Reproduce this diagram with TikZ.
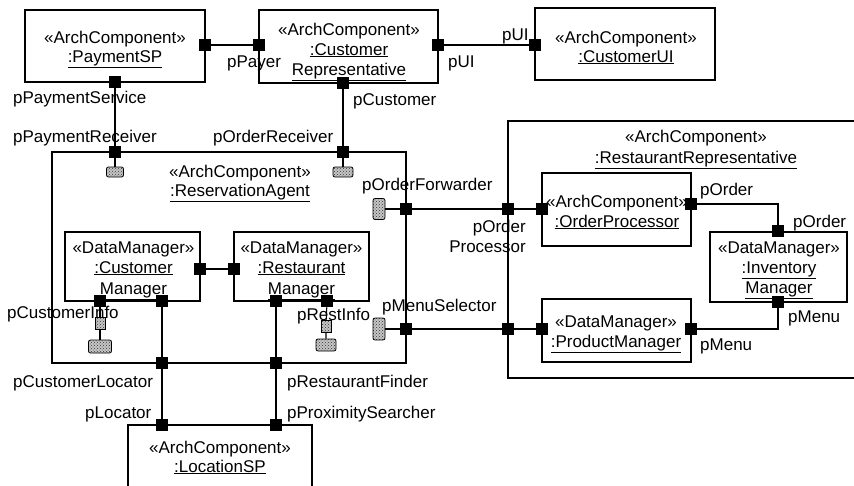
\documentclass[tikz,border=0pt]{standalone}
\usepackage{fontspec}
\setmainfont{Liberation Sans}
\usetikzlibrary{patterns}
\begin{document}
\begin{tikzpicture}[x=1pt,y=-1pt,
  every node/.style={font=\fontsize{17}{20}\selectfont},
  comp/.style={draw, line width=1.2pt, inner sep=0pt},
  prt/.style={fill=black, minimum size=12.5pt, inner sep=0pt},
  bhv/.style={draw, line width=0.8pt, rounded corners=2pt, inner sep=0pt,
    preaction={fill=gray!45}, pattern=crosshatch dots, pattern color=black!80},
  stub/.style={draw, line width=0.6pt, inner sep=0pt, minimum width=10pt, minimum height=12pt,
    preaction={fill=gray!45}, pattern=crosshatch dots, pattern color=black!80},
  tag/.style={inner sep=0pt, anchor=base},
  lbl/.style={inner sep=0pt, anchor=base west},
  wire/.style={line width=1.1pt}]
\useasboundingbox (0,0) rectangle (854,485);
\clip (0,0) rectangle (854,485);

% ---------- component boxes ----------
\node[comp, minimum width=180pt, minimum height=72pt] (pay) at (115,46) {};
\node[comp, minimum width=179pt, minimum height=73pt] (cr) at (348.5,46.5) {};
\node[comp, minimum width=180pt, minimum height=72pt] (ui) at (625,44) {};
\node[comp, minimum width=354pt, minimum height=211pt] (ra) at (229,257.5) {};
\node[comp, minimum width=135pt, minimum height=69pt] (cm) at (132.5,266.5) {};
\node[comp, minimum width=135pt, minimum height=69pt] (rm) at (301.5,266.5) {};
\node[comp, minimum width=184pt, minimum height=95pt] (ls) at (220,472.5) {};
\node[comp, minimum width=384pt, minimum height=257pt] (rr) at (700,249.5) {};
\node[comp, minimum width=149pt, minimum height=73pt] (op) at (616.5,209.5) {};
\node[comp, minimum width=137pt, minimum height=70pt] (im) at (778.5,267) {};
\node[comp, minimum width=149pt, minimum height=63pt] (pm) at (616.5,330.5) {};

% ---------- box texts ----------
\node[tag] (paySt) at (115,43) {«ArchComponent»};
\node[tag] (payNm) at (115,62) {\underline{:PaymentSP}};
\node[tag] (crSt) at (349,35) {«ArchComponent»};
\node[tag] (crNa) at (349,55) {\underline{:Customer}};
\node[tag] (crNb) at (349,75) {\underline{Representative}};
\node[tag] (uiSt) at (626,43) {«ArchComponent»};
\node[tag] (uiNm) at (626,62) {\underline{:CustomerUI}};
\node[tag] (raSt) at (240,177) {«ArchComponent»};
\node[tag] (raNm) at (240,196) {\underline{:ReservationAgent}};
\node[tag] (cmSt) at (133.5,253) {«DataManager»};
\node[tag] (cmNa) at (133.5,273) {\underline{:Customer}};
\node[tag] (cmNb) at (133.5,294) {\underline{Manager}};
\node[tag] (rmSt) at (301.5,253) {«DataManager»};
\node[tag] (rmNa) at (301.5,273) {\underline{:Restaurant}};
\node[tag] (rmNb) at (301.5,294) {\underline{Manager}};
\node[tag] (lsSt) at (220,453) {«ArchComponent»};
\node[tag] (lsNm) at (220,472) {\underline{:LocationSP}};
\node[tag] (rrSt) at (696,142) {«ArchComponent»};
\node[tag] (rrNm) at (696,163) {\underline{:RestaurantRepresentative}};
\node[tag] (opSt) at (617,207) {«ArchComponent»};
\node[tag] (opNm) at (617,227) {\underline{:OrderProcessor}};
\node[tag] (imSt) at (779,253) {«DataManager»};
\node[tag] (imNa) at (779,273) {\underline{:Inventory}};
\node[tag] (imNb) at (779,293) {\underline{Manager}};
\node[tag] (pmSt) at (616,327) {«DataManager»};
\node[tag] (pmNm) at (616,347) {\underline{:ProductManager}};

% ---------- ports ----------
\node[prt] (payR) at (205,45) {};
\node[prt] (payB) at (115,82) {};
\node[prt] (crL) at (259,45) {};
\node[prt] (crR) at (438,45) {};
\node[prt] (crB) at (343,83) {};
\node[prt] (uiL) at (535,45) {};
\node[prt] (raPay) at (115,152) {};
\node[prt] (raOrd) at (343,152) {};
\node[prt] (raFwd) at (406,209) {};
\node[prt] (raMenu) at (406,329) {};
\node[prt] (raCL) at (162,363) {};
\node[prt] (raRF) at (276,363) {};
\node[prt] (cmR) at (200,269) {};
\node[prt] (cmInfo) at (100,301) {};
\node[prt] (cmLoc) at (162,301) {};
\node[prt] (rmL) at (234,269) {};
\node[prt] (rmFind) at (276,301) {};
\node[prt] (rmInfo) at (327,301) {};
\node[prt] (lsLoc) at (162,425) {};
\node[prt] (lsProx) at (276,425) {};
\node[prt] (rrOP) at (508,209) {};
\node[prt] (rrMS) at (508,329) {};
\node[prt] (opL) at (542,209) {};
\node[prt] (opR) at (691,204) {};
\node[prt] (pmL) at (542,329) {};
\node[prt] (pmR) at (691,329) {};
\node[prt] (imT) at (778,231) {};
\node[prt] (imB) at (778,302) {};

% ---------- behaviour ports ----------
\node[bhv, minimum width=17pt, minimum height=10pt] (bPay) at (115,172) {};
\node[bhv, minimum width=20pt, minimum height=10pt] (bOrd) at (343,172) {};
\node[bhv, minimum width=12pt, minimum height=21pt] (bFwd) at (379,209) {};
\node[bhv, minimum width=12pt, minimum height=22pt] (bMenu) at (379,329) {};
\node[stub] (sCust) at (100,323) {};
\node[bhv, minimum width=23pt, minimum height=13pt] (bCust) at (100,346.5) {};
\node[stub] (sRest) at (326,326) {};
\node[bhv, minimum width=20pt, minimum height=12pt] (bRest) at (326,345) {};

% ---------- connectors ----------
\draw[wire] (payR) -- (crL);
\draw[wire] (crR) -- (uiL);
\draw[wire] (payB) -- (raPay) -- (bPay);
\draw[wire] (crB) -- (raOrd) -- (bOrd);
\draw[wire] (bFwd) -- (raFwd) -- (rrOP) -- (opL);
\draw[wire] (bMenu) -- (raMenu) -- (rrMS) -- (pmL);
\draw[wire] (cmR) -- (rmL);
\draw[wire] (cmInfo) -- (sCust) -- (bCust);
\draw[wire] (rmInfo) -- (sRest) -- (bRest);
\draw[wire] (cmLoc) -- (raCL) -- (lsLoc);
\draw[wire] (rmFind) -- (raRF) -- (lsProx);
\draw[wire] (opR) -| (imT);
\draw[wire] (pmR) -| (imB);

% ---------- port labels ----------
\node[lbl] (lPayer) at (227,67) {pPayer};
\node[lbl] (lPaySvc) at (13,103) {pPaymentService};
\node[lbl] (lPayRcv) at (13,142) {pPaymentReceiver};
\node[lbl] (lOrdRcv) at (213,142) {pOrderReceiver};
\node[lbl] (lCust) at (353,105) {pCustomer};
\node[lbl] (lFwd) at (362,190) {pOrderForwarder};
\node[lbl] (lUIa) at (502,40) {pUI};
\node[lbl] (lUIb) at (448,67) {pUI};
\node[lbl] (lCInfo) at (7,318) {pCustomerInfo};
\node[lbl] (lRInfo) at (297,320) {pRestInfo};
\node[lbl] (lMSel) at (382,311) {pMenuSelector};
\node[lbl] (lCLoc) at (13,387) {pCustomerLocator};
\node[lbl] (lRFind) at (287,387) {pRestaurantFinder};
\node[lbl] (lLoc) at (85,418) {pLocator};
\node[lbl] (lProx) at (287,418) {pProximitySearcher};
\node[lbl] (lOrdA) at (700,195) {pOrder};
\node[lbl] (lOrdB) at (793,227) {pOrder};
\node[lbl] (lMenuA) at (788,322) {pMenu};
\node[lbl] (lMenuB) at (700,350) {pMenu};
\node[inner sep=0pt, anchor=base east] (lOPa) at (526,232) {pOrder};
\node[inner sep=0pt, anchor=base east] (lOPb) at (526,252) {Processor};
\end{tikzpicture}
\end{document}
